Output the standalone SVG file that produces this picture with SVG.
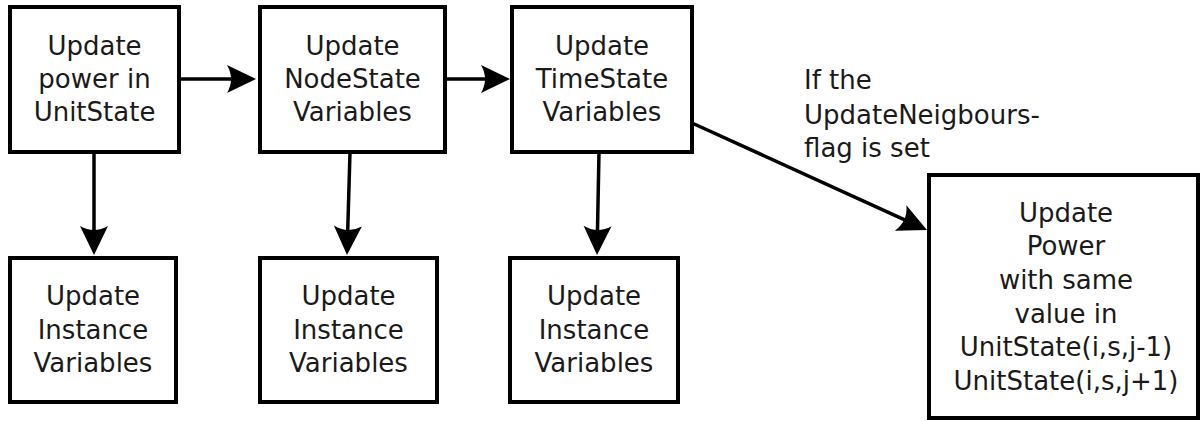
<svg xmlns="http://www.w3.org/2000/svg" width="1203" height="421" viewBox="0 0 1203 421">
<style>
rect.box{fill:#fff;stroke:#000;stroke-width:4}
text{font-family:"DejaVu Sans",sans-serif;font-size:26px;fill:#1a1a1a}
.c{text-anchor:middle}
.conn line{stroke:#000;stroke-width:3.5;fill:none;marker-end:url(#ah)}
</style>
<defs>
<marker id="ah" markerUnits="userSpaceOnUse" markerWidth="40" markerHeight="40" viewBox="-20 -20 40 40" refX="0" refY="0" orient="auto" overflow="visible">
<path d="M10,0 L-19,-14 Q-11,0 -19,14 Z" fill="#000"/>
</marker>
</defs>
<rect width="1203" height="421" fill="#fff"/>
<g id="n1"><rect class="box" x="10" y="7" width="169" height="145"/>
<text class="c" x="94.5" y="55">Update</text><text class="c" x="94.5" y="88">power in</text><text class="c" x="94.5" y="121">UnitState</text></g>
<g id="n2"><rect class="box" x="260" y="7" width="185" height="145"/>
<text class="c" x="352.5" y="55">Update</text><text class="c" x="352.5" y="88">NodeState</text><text class="c" x="352.5" y="121">Variables</text></g>
<g id="n3"><rect class="box" x="512" y="7" width="180" height="145"/>
<text class="c" x="602" y="55">Update</text><text class="c" x="602" y="88">TimeState</text><text class="c" x="602" y="121">Variables</text></g>
<g id="n4"><rect class="box" x="10" y="258" width="166" height="144"/>
<text class="c" x="93" y="305">Update</text><text class="c" x="93" y="339">Instance</text><text class="c" x="93" y="372">Variables</text></g>
<g id="n5"><rect class="box" x="260" y="258" width="177" height="144"/>
<text class="c" x="348.5" y="305">Update</text><text class="c" x="348.5" y="339">Instance</text><text class="c" x="348.5" y="372">Variables</text></g>
<g id="n6"><rect class="box" x="510" y="258" width="168" height="144"/>
<text class="c" x="594" y="305">Update</text><text class="c" x="594" y="339">Instance</text><text class="c" x="594" y="372">Variables</text></g>
<g id="n7"><rect class="box" x="929" y="175" width="269" height="243"/>
<text class="c" x="1066" y="222">Update</text><text class="c" x="1066" y="255">Power</text><text class="c" x="1066" y="289">with same</text><text class="c" x="1066" y="323">value in</text><text class="c" x="1066" y="356">UnitState(i,s,j-1)</text><text class="c" x="1066" y="390">UnitState(i,s,j+1)</text></g>
<g id="connectors" class="conn">
<line x1="179" y1="79" x2="246" y2="79"/>
<line x1="445" y1="79" x2="500" y2="79"/>
<line x1="94" y1="152" x2="94" y2="245"/>
<line x1="350" y1="152" x2="347.3" y2="245"/>
<line x1="599" y1="152" x2="597.2" y2="245"/>
<line x1="692" y1="123" x2="917.9" y2="225.9"/>
</g>
<g id="label"><text x="804" y="89">If the</text><text x="804" y="124">UpdateNeigbours-</text><text x="804" y="157">flag is set</text></g>
</svg>
